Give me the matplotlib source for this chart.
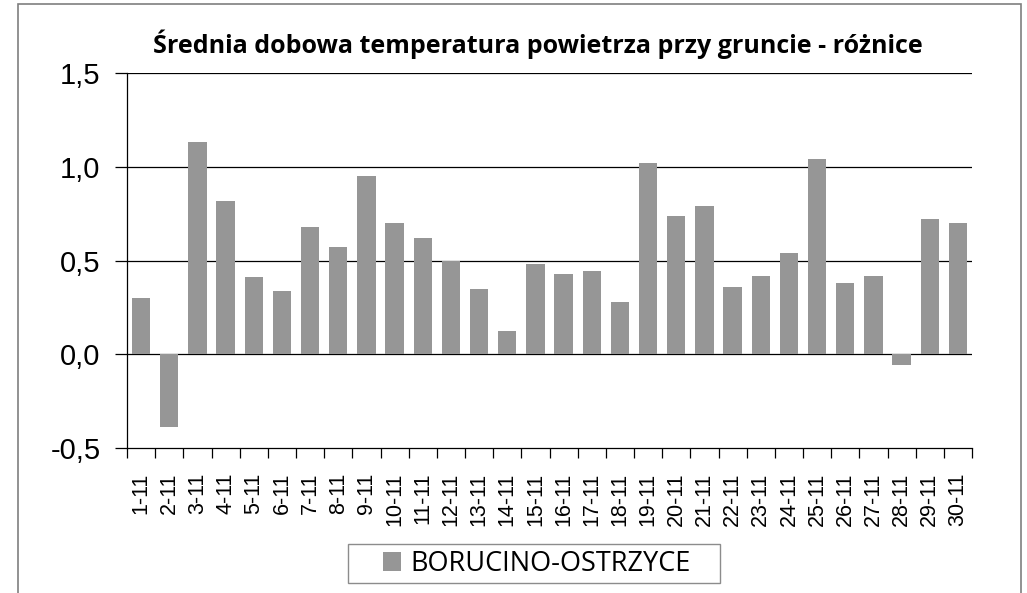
import matplotlib
matplotlib.use("Agg")
import matplotlib.pyplot as plt
from matplotlib.patches import Rectangle
import numpy as np

days = [f"{d}-11" for d in range(1, 31)]
differences = [0.30, -0.39, 1.13, 0.82, 0.41, 0.34, 0.68, 0.57, 0.95, 0.70,
               0.62, 0.50, 0.35, 0.125, 0.48, 0.43, 0.445, 0.28, 1.02, 0.74,
               0.79, 0.36, 0.42, 0.54, 1.04, 0.38, 0.42, -0.055, 0.72, 0.70]
series_name = "BORUCINO-OSTRZYCE"
title = "Średnia dobowa temperatura powietrza przy gruncie - różnice"
yticks = [-0.5, 0.0, 0.5, 1.0, 1.5]

W, H = 1027, 593
fig = plt.figure(figsize=(W / 100, H / 100), dpi=100)

# outer chart frame (bottom edge is cut off in the original)
fig.patches.append(Rectangle((18 / W, -0.1), 1003 / W, 1.1 - 4 / H,
                             transform=fig.transFigure, fill=False,
                             edgecolor="#7f7f7f", linewidth=1.2))
# legend frame
fig.patches.append(Rectangle((348 / W, 1 - 583 / H), 372 / W, 39 / H,
                             transform=fig.transFigure, fill=False,
                             edgecolor="#8c8c8c", linewidth=1.0))

ax = fig.add_axes([127 / W, 1 - 448 / H, 845 / W, 375 / H])
x = np.arange(len(days))
bars = ax.bar(x, differences, width=0.65, color="#969696", label=series_name, zorder=3)

ax.set_xlim(-0.5, len(days) - 0.5)
ax.set_ylim(-0.5, 1.5)
ax.set_yticks(yticks)
ax.set_yticklabels([f"{v:.1f}".replace(".", ",") for v in yticks],
                   fontsize=21, fontfamily="Liberation Sans")
for v in yticks[1:]:
    ax.axhline(v, color="black", linewidth=0.9, zorder=2)

ax.set_xticks(x)
ax.set_xticklabels(days, rotation=90, fontsize=15.5, fontfamily="Liberation Sans")
ax.tick_params(axis="x", length=0, pad=18)
ax.set_xticks(np.arange(-0.5, len(days)), minor=True)
ax.tick_params(axis="x", which="minor", length=7, width=0.9, color="black")
ax.tick_params(axis="y", length=9, width=0.9, pad=10)

for s in ["top", "right"]:
    ax.spines[s].set_visible(False)
ax.spines["left"].set_linewidth(0.9)
ax.spines["bottom"].set_linewidth(0.9)

fig.text(538 / W, 1 - 44 / H, title, ha="center", va="center",
         fontsize=18, fontweight="bold", fontfamily="Open Sans")

fig.legend(handles=[bars], labels=[series_name], loc="center",
           bbox_to_anchor=(537 / W, 1 - 564 / H),
           prop={"family": "Open Sans", "size": 19.5},
           frameon=False, handlelength=0.65, handleheight=0.65,
           handletextpad=0.35, borderpad=0, borderaxespad=0)

fig.savefig("out.png", dpi=100)
